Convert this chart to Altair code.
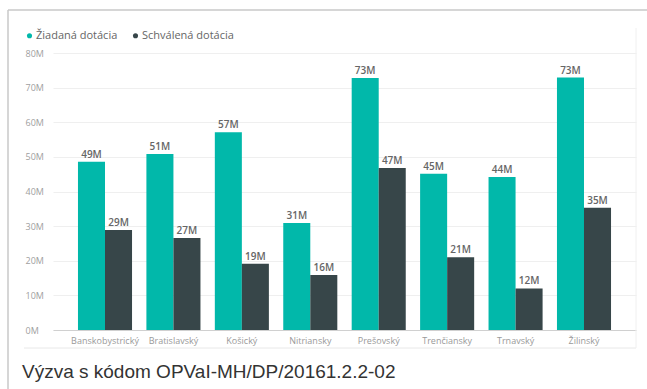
import altair as alt
import pandas as pd

regions = ["Banskobystrický", "Bratislavský", "Košický", "Nitriansky",
           "Prešovský", "Trenčiansky", "Trnavský", "Žilinský"]
series_names = ["Žiadaná dotácia", "Schválená dotácia"]
requested = [48.6, 50.8, 57.1, 30.9, 72.8, 45.1, 44.2, 72.9]   # millions
approved = [28.9, 26.6, 19.1, 15.9, 46.8, 21.0, 12.0, 35.3]    # millions
y_ticks = [0, 10, 20, 30, 40, 50, 60, 70, 80]
caption = "Výzva s kódom OPVaI-MH/DP/20161.2.2-02"
colors = ["#01B8AA", "#374649"]

rows = []
for r, a, b in zip(regions, requested, approved):
    rows.append({"region": r, "series": series_names[0], "value": a})
    rows.append({"region": r, "series": series_names[1], "value": b})
df = pd.DataFrame(rows)

FONT = "Open Sans"

x_enc = alt.X("region:N", sort=regions,
              scale=alt.Scale(paddingInner=0.21, paddingOuter=0.365),
              axis=alt.Axis(title=None, labelAngle=0, ticks=False, domain=True,
                            domainColor="#d0d0d0", labelColor="#9a9a9a",
                            labelFontSize=9, labelFont=FONT, labelPadding=6))
y_enc = alt.Y("value:Q", scale=alt.Scale(domain=[0, 80], nice=False),
              axis=alt.Axis(title=None, values=y_ticks, labelExpr="datum.value + 'M'",
                            ticks=False, domain=False, grid=True, gridColor="#efefef",
                            labelAlign="left", labelPadding=28, labelColor="#a0a0a0",
                            labelFontSize=9, labelFont=FONT, labelOverlap=False))
xo = alt.XOffset("series:N", sort=series_names)
color = alt.Color("series:N", sort=series_names,
                  scale=alt.Scale(domain=series_names, range=colors),
                  legend=alt.Legend(title=None, orient="none", direction="horizontal",
                                    legendX=-29, legendY=-23, symbolType="circle",
                                    symbolSize=26, labelFontSize=11, labelFont=FONT,
                                    labelColor="#666666", labelOffset=1,
                                    columnPadding=12, symbolStrokeWidth=0))

base = alt.Chart(df)
bars = base.mark_bar().encode(x=x_enc, xOffset=xo, y=y_enc, color=color)
labels = base.transform_calculate(
    label="format(round(datum.value), 'd') + 'M'"
).mark_text(dy=-7, fontSize=10, font=FONT, color="#666666", fontWeight=600).encode(
    x=x_enc, xOffset=xo, y=y_enc, text="label:N")

one = alt.Data(values=[{"a": 1}])
frame_top = alt.Chart(one).mark_rule(color="#c8c8c8", strokeWidth=1.5).encode(
    x=alt.value(-45), x2=alt.value(600), y=alt.value(-43))
frame_left = alt.Chart(one).mark_rule(color="#c8c8c8", strokeWidth=1.5).encode(
    x=alt.value(-45), y=alt.value(-43), y2=alt.value(340))
img_bottom = alt.Chart(one).mark_rule(color="#e8e8e8", strokeWidth=1).encode(
    x=alt.value(-29), x2=alt.value(583), y=alt.value(295))
img_right = alt.Chart(one).mark_rule(color="#f0f0f0", strokeWidth=1).encode(
    x=alt.value(583), y=alt.value(-25), y2=alt.value(295))
cap = alt.Chart(one).mark_text(align="left", baseline="middle", fontSize=19,
                               font="Liberation Sans", color="#333333").encode(
    x=alt.value(-31), y=alt.value(319), text=alt.value(caption))

chart = alt.layer(bars, labels, frame_top, frame_left, img_bottom, img_right, cap).properties(
    width=583, height=277,
    autosize=alt.AutoSizeParams(type="none"),
    padding={"left": 53, "top": 53, "right": 11, "bottom": 59},
    background="white",
).configure_view(stroke=None)

chart.save("out.html", embed_options={"renderer": "svg", "actions": False})
